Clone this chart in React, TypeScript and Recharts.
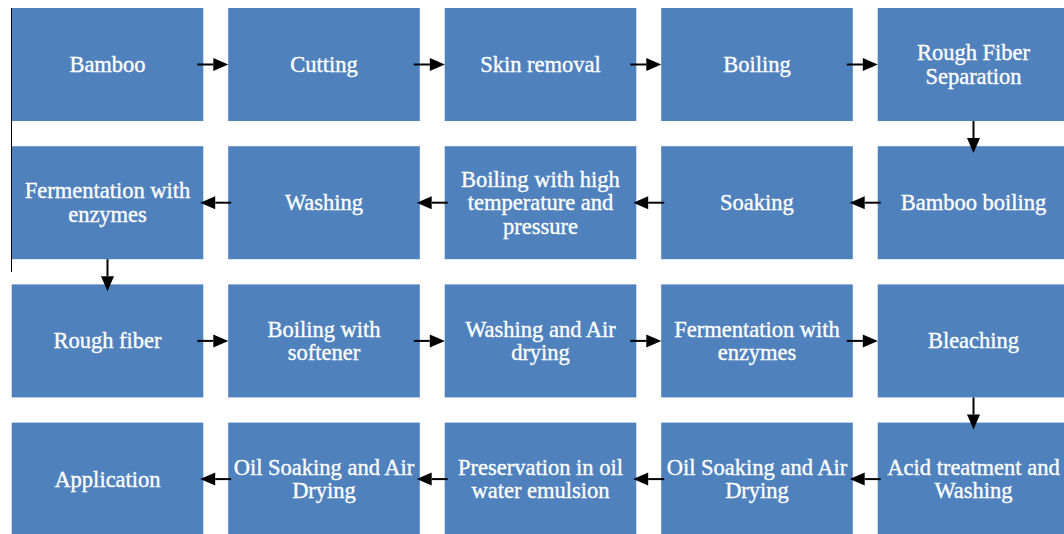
import { Scatter, ScatterChart, XAxis, YAxis } from 'recharts';

// process steps, in reading order of the grid
const labels = [
  'Bamboo', 'Cutting', 'Skin removal', 'Boiling', 'Rough Fiber\nSeparation',
  'Bamboo boiling', 'Soaking', 'Boiling with high\ntemperature and\npressure', 'Washing', 'Fermentation with\nenzymes',
  'Rough fiber', 'Boiling with\nsoftener', 'Washing and Air\ndrying', 'Fermentation with\nenzymes', 'Bleaching',
  'Acid treatment and\nWashing', 'Oil Soaking and Air\nDrying', 'Preservation in oil\nwater emulsion', 'Oil Soaking and Air\nDrying', 'Application',
];
const cols = [0, 1, 2, 3, 4, 4, 3, 2, 1, 0, 0, 1, 2, 3, 4, 4, 3, 2, 1, 0];
const rows = [0, 0, 0, 0, 0, 1, 1, 1, 1, 1, 2, 2, 2, 2, 2, 3, 3, 3, 3, 3];
const links = ['right', 'right', 'right', 'right', 'down', 'left', 'left', 'left', 'left', 'down',
  'right', 'right', 'right', 'right', 'down', 'left', 'left', 'left', 'left', ''];

const data = labels.map((label, i) => ({ label, col: cols[i], row: rows[i], link: links[i] }));

const W = 1064;
const H = 534;
const BOX_W = 191.6;
const BOX_H = 113;
const FILL = '#4F81BD';

const Box = (props: any) => {
  const { cx, cy, payload } = props;
  const lines: string[] = payload.label.split('\n');
  const lh = 23.5;
  return (
    <g>
      <rect x={cx - BOX_W / 2} y={cy - BOX_H / 2} width={BOX_W} height={BOX_H} fill={FILL} />
      <text
        textAnchor="middle"
        fill="#fff"
        stroke="#fff"
        strokeWidth={0.35}
        fontSize={22.5}
        fontFamily="'Liberation Serif', 'Times New Roman', serif"
      >
        {lines.map((l, i) => (
          <tspan key={i} x={cx} y={cy + 7.5 + (i - (lines.length - 1) / 2) * lh}>
            {l}
          </tspan>
        ))}
      </text>
    </g>
  );
};

const Arrow = (props: any) => {
  const { cx, cy, payload } = props;
  const head = 15;
  const hw = 6.5;
  let x1 = cx, y1 = cy, x2 = cx, y2 = cy;
  if (payload.link === 'right') {
    x1 = cx + BOX_W / 2 - 6;
    x2 = cx + BOX_W / 2 + 25;
  } else if (payload.link === 'left') {
    x1 = cx - BOX_W / 2 + 3;
    x2 = cx - BOX_W / 2 - 28;
  } else if (payload.link === 'down') {
    y1 = cy + BOX_H / 2;
    y2 = cy + BOX_H / 2 + 32;
  } else {
    return <g />;
  }
  const dx = Math.sign(x2 - x1);
  const dy = Math.sign(y2 - y1);
  const bx = x2 - dx * head;
  const by = y2 - dy * head;
  const pts = dx
    ? `${x2},${y2} ${bx},${by - hw} ${bx},${by + hw}`
    : `${x2},${y2} ${bx - hw},${by} ${bx + hw},${by}`;
  return (
    <g>
      <line x1={x1} y1={y1} x2={bx} y2={by} stroke="#000" strokeWidth={2} />
      <polygon points={pts} fill="#000" />
    </g>
  );
};

export default function App() {
  return (
    <div style={{ position: 'absolute', left: 0, top: 0, width: W, height: H, background: '#fff' }}>
      <ScatterChart width={W} height={H} margin={{ top: 0, right: 0, bottom: 0, left: 0 }}>
        <XAxis type="number" dataKey="col" domain={[-0.49654, 4.41801]} allowDataOverflow hide />
        <YAxis type="number" dataKey="row" domain={[-0.46671, 3.39726]} allowDataOverflow reversed hide />
        <Scatter data={data} shape={<Box />} isAnimationActive={false} />
        <Scatter data={data} shape={<Arrow />} isAnimationActive={false} />
      </ScatterChart>
      <div style={{ position: 'absolute', left: 10.5, top: 8, width: 1.5, height: 264, background: '#000' }} />
    </div>
  );
}
